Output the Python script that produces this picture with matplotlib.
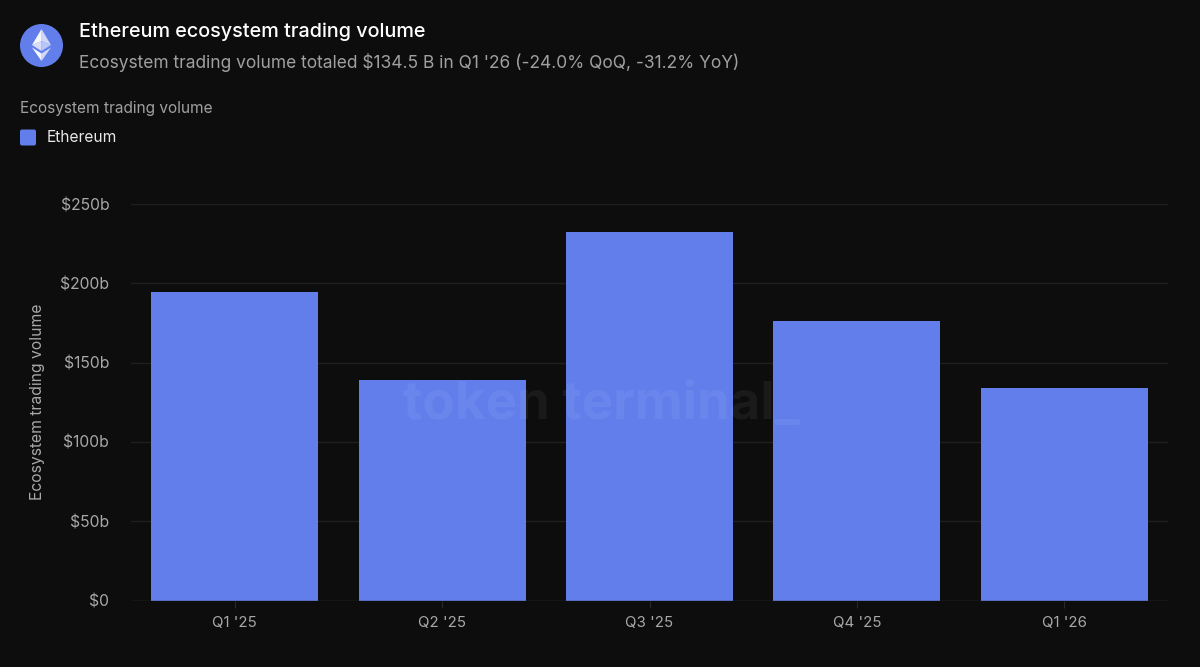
import matplotlib
matplotlib.use('Agg')
import matplotlib.pyplot as plt
from matplotlib.patches import Circle, Polygon, FancyBboxPatch

quarters = ["Q1 '25", "Q2 '25", "Q3 '25", "Q4 '25", "Q1 '26"]
volume = [194.5, 139.2, 232.3, 176.2, 134.0]
y_ticks = [0, 50, 100, 150, 200, 250]
y_labels = ['$0', '$50b', '$100b', '$150b', '$200b', '$250b']

BG = '#0d0d0d'
BLUE = '#627eea'
W, H = 1200, 667

plt.rcParams['font.family'] = ['Inter', 'DejaVu Sans']

fig = plt.figure(figsize=(12, 6.67), dpi=100, facecolor=BG)


# pixels from the top left, the same way the picture is read
def px(x, y):
    return x / W, 1 - y / H


left, bottom = px(131, 600.5)
right, top = px(1168, 204)
ax = fig.add_axes([left, bottom, right - left, top - bottom], facecolor=BG)

ax.bar(range(len(quarters)), volume, width=0.805, color=BLUE, zorder=3)
ax.axhline(0, color='#2a2a2a', lw=1, zorder=4)

ax.set_xlim(-0.5, 4.5)
ax.set_ylim(0, 250)
ax.set_xticks(range(len(quarters)))
ax.set_xticklabels(quarters)
ax.set_yticks(y_ticks)
ax.set_yticklabels(y_labels)
ax.tick_params(axis='x', colors='#2a2a2a', labelcolor='#a8a8a8', labelsize=10.8, length=5, width=0.8, pad=6)
ax.tick_params(axis='y', length=0, labelcolor='#a8a8a8', labelsize=11.3, pad=15.7)
ax.grid(axis='y', color='#1f1f1f', lw=1, zorder=0)
ax.set_axisbelow(True)
for s in ax.spines.values():
    s.set_visible(False)

# watermark sits over the bars
x, y = px(601, 405)
fig.text(x, y, 'token terminal_', color='#ffffff', alpha=0.055, fontsize=38, fontweight='bold',
         ha='center', va='center', zorder=10)

x, y = px(37.5, 402)
fig.text(x, y, 'Ecosystem trading volume', color='#a8a8a8', fontsize=11.3, rotation=90,
         ha='center', va='center')

# header
x, y = px(79, 32)
fig.text(x, y, 'Ethereum ecosystem trading volume', color='#ffffff', fontsize=14.25, fontweight='medium', va='center')
x, y = px(79, 62)
fig.text(x, y, "Ecosystem trading volume totaled $134.5 B in Q1 '26 (-24.0% QoQ, -31.2% YoY)",
         color='#a0a0a0', fontsize=12.5, va='center')
x, y = px(20, 108.5)
fig.text(x, y, 'Ecosystem trading volume', color='#a0a0a0', fontsize=11.1, va='center')
x, y = px(47, 138)
fig.text(x, y, 'Ethereum', color='#e8e8e8', fontsize=11.2, va='center')

# overlay axes in pixel units for the logo and the legend swatch
ov = fig.add_axes([0, 0, 1, 1], facecolor='none')
ov.set_xlim(0, W)
ov.set_ylim(H, 0)
ov.axis('off')
ov.add_patch(FancyBboxPatch((21.5, 131), 13, 13, boxstyle='round,pad=1.5,rounding_size=2',
                            fc=BLUE, ec='none'))
ov.add_patch(Circle((41.5, 45.5), 21.5, fc=BLUE, ec='none'))
ov.add_patch(Polygon([(41.5, 29), (32, 45), (41.5, 41)], fc='#ffffff', alpha=0.95, ec='none'))
ov.add_patch(Polygon([(41.5, 29), (51, 45), (41.5, 41)], fc='#ffffff', alpha=0.7, ec='none'))
ov.add_patch(Polygon([(41.5, 41), (32, 45), (41.5, 51)], fc='#e4e9fb', alpha=0.9, ec='none'))
ov.add_patch(Polygon([(41.5, 41), (51, 45), (41.5, 51)], fc='#c3cef6', alpha=0.9, ec='none'))
ov.add_patch(Polygon([(32, 47.5), (41.5, 53.5), (41.5, 61)], fc='#ffffff', alpha=0.95, ec='none'))
ov.add_patch(Polygon([(51, 47.5), (41.5, 53.5), (41.5, 61)], fc='#ffffff', alpha=0.7, ec='none'))

fig.savefig('out.png', dpi=100, facecolor=BG)
